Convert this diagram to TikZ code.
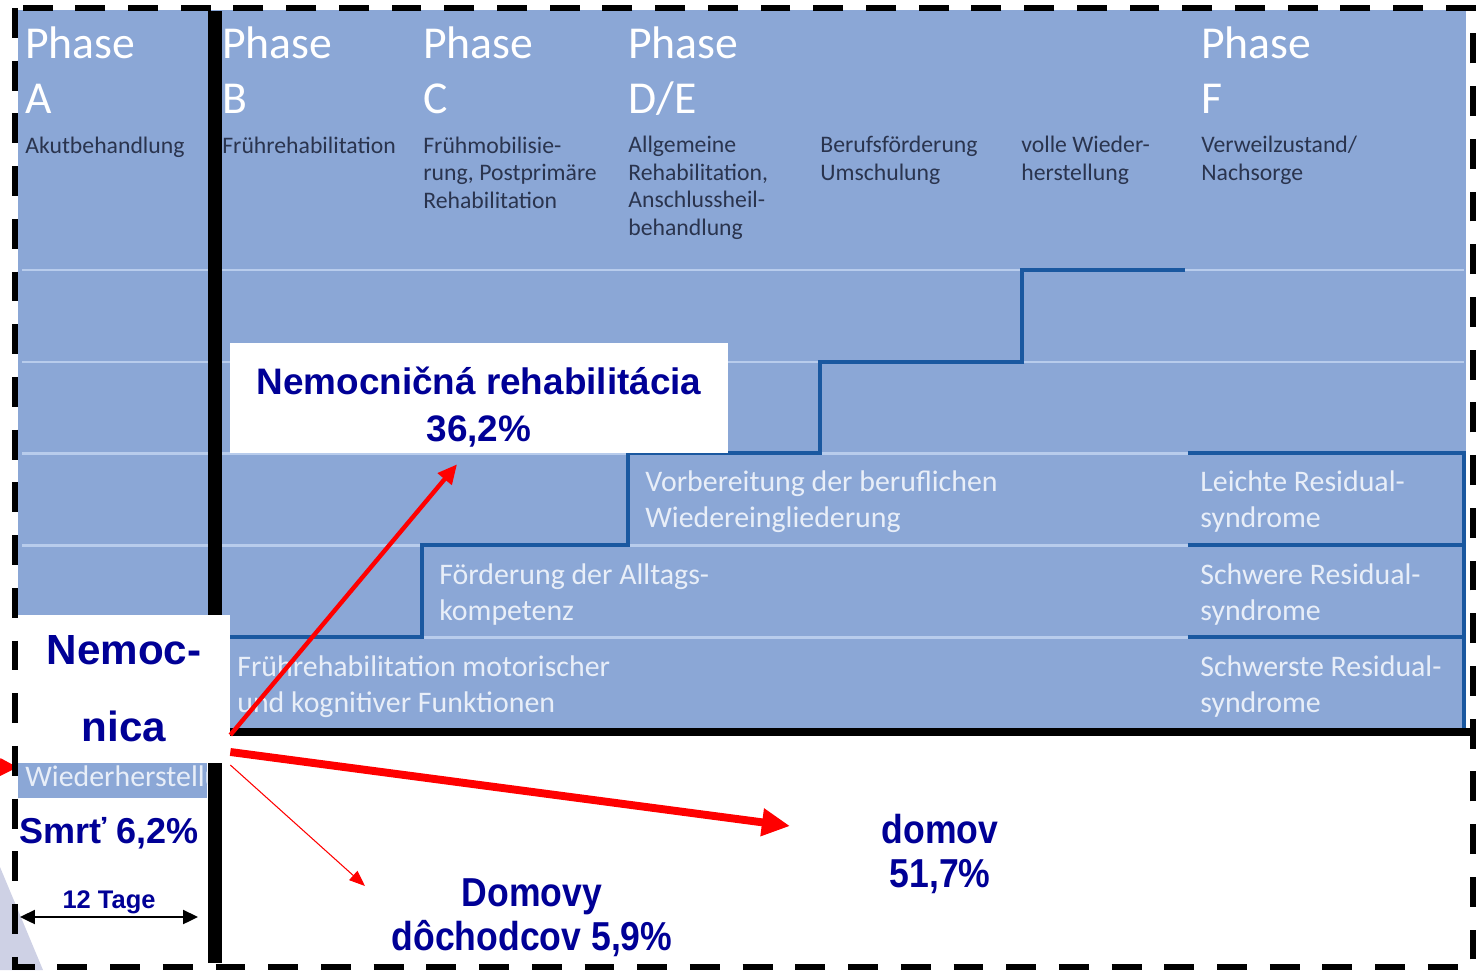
\documentclass[tikz,border=0pt]{standalone}
\usepackage{fontspec}
\setmainfont{Liberation Sans}
\newfontfamily\chartfont{Carlito}
\newfontfamily\narrowfont[FakeStretch=0.88]{Liberation Sans}
\usetikzlibrary{arrows.meta}
\definecolor{chartblue}{RGB}{139,167,214}
\definecolor{gridcolor}{RGB}{184,204,236}
\definecolor{stepcolor}{RGB}{26,88,160}
\definecolor{navy}{RGB}{0,0,150}
\definecolor{headcolor}{RGB}{42,52,78}
\definecolor{stagecolor}{RGB}{232,238,248}
\definecolor{wedge}{RGB}{206,209,229}

\begin{document}
\begin{tikzpicture}[x=0.02cm,y=-0.02cm]
\tikzstyle{phase}=[anchor=base west,inner sep=0pt,align=left,text=white,font=\chartfont\fontsize{26}{31}\selectfont]
\tikzstyle{phasesub}=[anchor=base west,inner sep=0pt,align=left,text=headcolor,font=\chartfont\fontsize{13.5}{15.6}\selectfont]
\tikzstyle{stage}=[anchor=base west,inner sep=0pt,align=left,text=stagecolor,font=\chartfont\fontsize{17}{20}\selectfont]
\tikzstyle{gridline}=[gridcolor,line width=1.7pt]
\tikzstyle{stepline}=[stepcolor,line width=2pt]
\tikzstyle{whitebox}=[fill=white,draw=none]
\tikzstyle{bluetext}=[align=center,text=navy,font=\bfseries\fontsize{21}{27}\selectfont]
\tikzstyle{narrowtext}=[anchor=base,align=center,text=navy,font=\narrowfont\bfseries\fontsize{23}{25}\selectfont]
\tikzstyle{redarrow}=[red,line cap=butt]
\useasboundingbox (0,0) rectangle (1476,970);
\fill[wedge] (0,867) -- (43,970) -- (0,970) -- cycle;
\fill[chartblue] (18,10) rectangle (1466,730);
\fill[chartblue] (18,730) rectangle (207,798);
\draw[gridline] (22,270) -- (1464,270);
\draw[gridline] (22,362) -- (1464,362);
\draw[gridline] (22,453) -- (1188,453);
\draw[gridline] (22,545) -- (1188,545);
\draw[gridline] (22,637) -- (1188,637);
\draw[stepline] (228,637) -| (422,545) -| (628,453) -| (820,362) -| (1022,270) -- (1185,270);
\draw[stepline] (1188,453) -- (1464,453) -- (1464,730);
\draw[stepline] (1188,545) -- (1464,545);
\draw[stepline] (1188,637) -- (1464,637);
\node[phase] (pa) at (25,113) {Phase\\A};
\node[phase] (pb) at (222,113) {Phase\\B};
\node[phase] (pc) at (423,113) {Phase\\C};
\node[phase] (pd) at (628,113) {Phase\\D/E};
\node[phase] (pf) at (1201,113) {Phase\\F};
\node[phasesub] (sa) at (25,153) {Akutbehandlung};
\node[phasesub] (sb) at (222,153) {Frührehabilitation};
\node[phasesub] (sc) at (423,208) {Frühmobilisie-\\rung, Postprimäre\\Rehabilitation};
\node[phasesub] (sd) at (628,235) {Allgemeine\\Rehabilitation,\\Anschlussheil-\\behandlung};
\node[phasesub] (se) at (820,180) {Berufsförderung\\Umschulung};
\node[phasesub] (sw) at (1021,180) {volle Wieder-\\herstellung};
\node[phasesub] (sf) at (1201,180) {Verweilzustand/\\Nachsorge};
\node[stage] (st1) at (237,712) {Frührehabilitation motorischer\\und kognitiver Funktionen};
\node[stage] (st2) at (439,620) {Förderung der Alltags-\\kompetenz};
\node[stage] (st3) at (645,527) {Vorbereitung der beruflichen\\Wiedereingliederung};
\node[stage] (rs1) at (1200,527) {Leichte Residual-\\syndrome};
\node[stage] (rs2) at (1200,620) {Schwere Residual-\\syndrome};
\node[stage] (rs3) at (1200,712) {Schwerste Residual-\\syndrome};
\begin{scope}
\clip (18,730) rectangle (207,798);
\node[stage] (st0) at (25,786) {Wiederherstellung};
\end{scope}
\draw[line width=8.5pt] (215,11) -- (215,963);
\draw[line width=4.5pt] (223,732) -- (1471,732);
\node[whitebox,bluetext,inner ysep=0pt,minimum width=9.96cm,minimum height=2.2cm] (1) at (479,398) {\rule{0pt}{26pt}Nemocničná rehabilitácia\\36,2\%};
\node[whitebox,bluetext,font=\bfseries\fontsize{24}{44}\selectfont,minimum width=4.24cm,minimum height=2.96cm] (2) at (124,689) {Nemoc-\\nica};
\node[bluetext,anchor=base,font=\bfseries\fontsize{20.5}{24}\selectfont] (3) at (109,843) {Smrť 6,2\%};
\node[bluetext,anchor=base,font=\bfseries\fontsize{14.5}{17}\selectfont] (4) at (109,908) {12 Tage};
\node[narrowtext] (5) at (532,950) {Domovy\\dôchodcov 5,9\%};
\node[narrowtext] (6) at (940,887) {domov\\51,7\%};
\coordinate (t1) at (20,917);
\coordinate (t2) at (198,917);
\draw[{Triangle[length=8.5pt,width=8pt]}-{Triangle[length=8.5pt,width=8pt]},line width=1.1pt] (t1) -- (t2);
\coordinate (r0) at (0,767);
\coordinate (h1) at (790,826);
\coordinate (h2) at (365,886);
\draw[redarrow,line width=1pt,-{Triangle[length=10pt,width=10pt]}] (r0) -- ([yshift=-0.08cm]2.south west);
\draw[redarrow,line width=2.5pt,-{Triangle[length=11pt,width=10pt]}] ([yshift=-0.92cm]2.east) -- ([xshift=-0.44cm,yshift=-0.22cm]1.south);
\draw[redarrow,line width=4.5pt,-{Triangle[length=16pt,width=15pt]}] ([yshift=-1.26cm]2.east) -- (h1);
\draw[redarrow,line width=0.6pt,-{Triangle[length=9pt,width=7pt]}] ([yshift=-1.52cm]2.east) -- (h2);
\draw[line width=3pt,dash pattern=on 17pt off 13pt] (15,8) rectangle (1473,967);
\end{tikzpicture}
\end{document}
